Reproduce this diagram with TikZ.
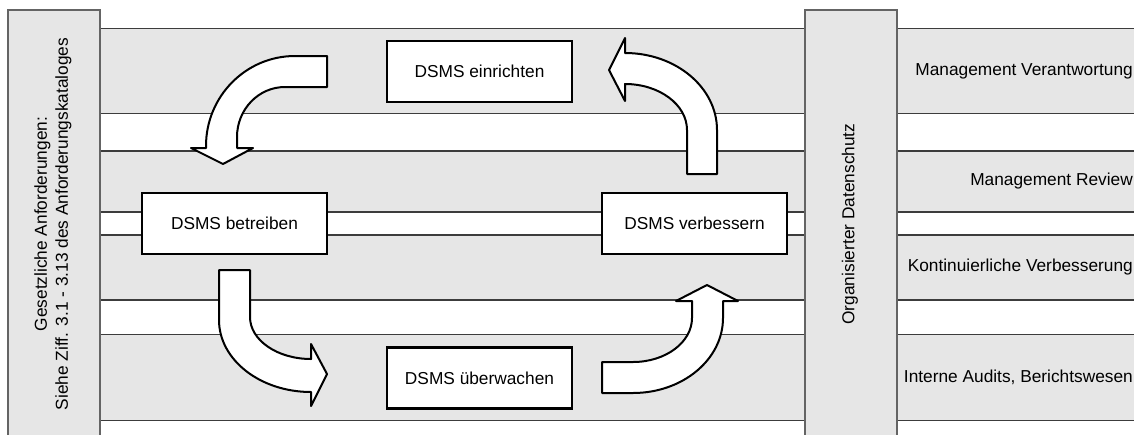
\documentclass[tikz,border=0pt]{standalone}
\usepackage{fontspec}
\setmainfont{Liberation Sans}
\definecolor{bandgray}{RGB}{230,230,230}
\definecolor{bandline}{RGB}{60,60,60}
\definecolor{colline}{RGB}{100,100,100}
\begin{document}
\begin{tikzpicture}[x=1pt,y=-1pt,
  lbl/.style={font=\fontsize{17.3}{21}\selectfont, inner sep=0pt},
  stepbox/.style={draw=black, line width=2.2pt, fill=white, minimum width=185pt, minimum height=61pt, font=\fontsize{17.3}{21}\selectfont},
  blockarrow/.style={draw=black, line width=2pt, fill=white, line join=round},
  band/.style={fill=bandgray},
  bandedge/.style={draw=bandline, line width=1.1pt},
  column/.style={draw=colline, line width=1.3pt, fill=bandgray}]
\useasboundingbox (0,0) rectangle (1134,434);
\clip (0,0) rectangle (1134,434);
% bands
\foreach \t/\b in {28.5/113.5, 151/212, 235/300, 334.5/420.5}{
  \fill[band] (100,\t) rectangle (1140,\b);
  \draw[bandedge] (100,\t) -- (1140,\t);
  \draw[bandedge] (100,\b) -- (1140,\b);
}
% columns
\draw[column] (8,10) rectangle (100,445);
\draw[column] (805,10) rectangle (897,445);
\node[lbl, rotate=90, align=center] (gesetz) at (53,224) {Gesetzliche Anforderungen:\\Siehe Ziff. 3.1 - 3.13 des Anforderungskataloges};
\node[lbl, rotate=90] (orga) at (850,224) {Organisierter Datenschutz};
% right labels
\node[lbl, anchor=east] (l1) at (1133,71) {Management Verantwortung};
\node[lbl, anchor=east] (l2) at (1133,181.5) {Management Review};
\node[lbl, anchor=east] (l3) at (1133,267.5) {Kontinuierliche Verbesserung};
\node[lbl, anchor=east] (l4) at (1133,377.5) {Interne Audits, Berichtswesen};
% boxes
\node[stepbox] (einrichten) at (479.5,71.5) {DSMS einrichten};
\node[stepbox] (betreiben) at (234.5,223.5) {DSMS betreiben};
\node[stepbox] (verbessern) at (694.5,223.5) {DSMS verbessern};
\node[stepbox] (ueberwachen) at (479.5,378) {DSMS überwachen};
% curved block arrows
% top-left: from einrichten down to betreiben
\draw[blockarrow] (327,56) -- (295,56)
  arc[start angle=-90, end angle=-180, x radius=89, y radius=90]
  -- (206,148) -- (191,148) -- (223,164) -- (253,148) -- (237,148) -- (237,137)
  arc[start angle=180, end angle=270, x radius=48, y radius=50]
  -- (327,87) -- cycle;
% bottom-left: from betreiben to ueberwachen
\draw[blockarrow] (219,270) -- (250,270) -- (250,317)
  arc[start angle=180, end angle=90, x radius=61, y radius=42]
  -- (311,344) -- (327,374) -- (311,406) -- (311,392)
  arc[start angle=90, end angle=180, x radius=92, y radius=72]
  -- cycle;
% bottom-right: from ueberwachen up to verbessern
\draw[blockarrow] (602,362) -- (633,362)
  arc[start angle=90, end angle=0, x radius=59, y radius=44]
  -- (692,301) -- (676,301) -- (707,285) -- (738,301) -- (723,301) -- (723,318)
  arc[start angle=0, end angle=90, x radius=90, y radius=75]
  -- (602,393) -- cycle;
% top-right: from verbessern to einrichten
\draw[blockarrow] (687,174) -- (717,174) -- (717,130)
  arc[start angle=0, end angle=-90, x radius=92, y radius=77]
  -- (625,38) -- (609,70) -- (625,101) -- (625,84)
  arc[start angle=-90, end angle=0, x radius=62, y radius=46]
  -- cycle;
\end{tikzpicture}
\end{document}
